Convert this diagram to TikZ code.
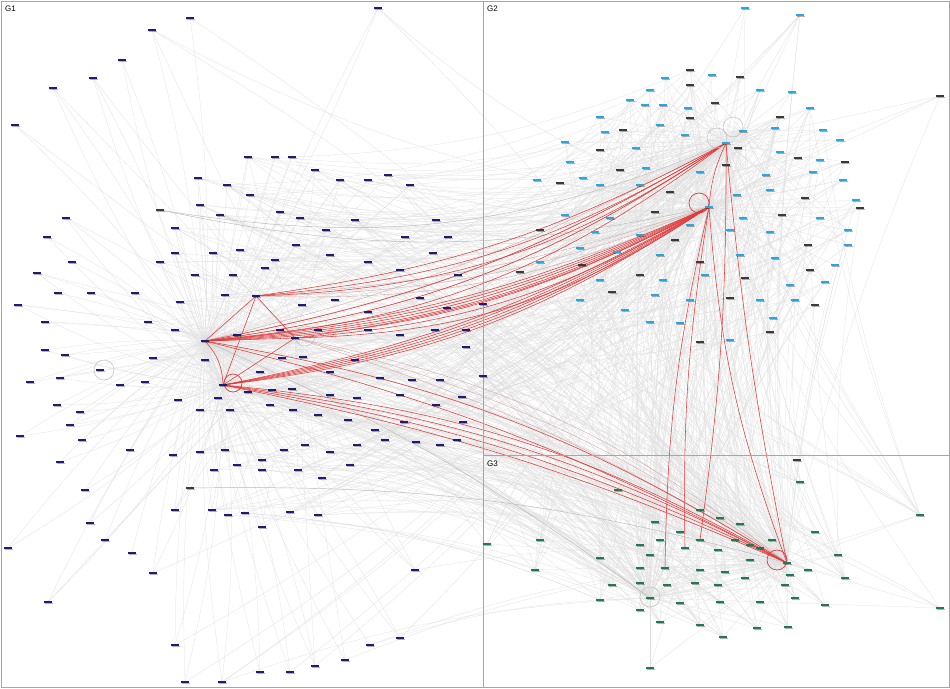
\documentclass[tikz,border=0pt]{standalone}
\usepackage{fontspec}
\setmainfont{Liberation Sans}
\usetikzlibrary{shadows}
\definecolor{navyc}{HTML}{1C1C78}
\definecolor{bluec}{HTML}{2AA5E3}
\definecolor{darkc}{HTML}{3A3A3A}
\definecolor{greenc}{HTML}{1E7A55}
\definecolor{redc}{HTML}{E23A3A}
\def\Alist{152/30,190/18,122/60,93/78,53/88,15/125,248/157,275/157,292/157,198/178,227/185,315/170,340/180,368/180,388/175,410/185,250/195,200/205,220/215,66/218,47/237,175/228,280/212,300/218,326/230,355/220,405/237,436/220,448/237,175/253,213/253,240/250,275/260,296/245,330/255,368/262,400/270,433/253,458/275,37/273,72/262,160/262,195/275,233/275,265/268,58/293,91/293,135/293,180/302,225/295,302/305,335/300,368/312,420/298,447/308,483/304,18/305,45/322,148/322,175/330,237/335,280/330,318/330,368/330,400/335,435/330,466/330,45/350,65/355,153/358,205/360,260/372,282/358,303/357,330/372,355/360,380/378,412/380,440/380,466/347,30/382,60/378,120/385,145/382,218/398,248/392,272/390,292/389,330/395,357/398,400/395,436/405,462/397,483/376,57/405,80/412,178/400,200/410,230/410,270/405,293/410,318/415,348/420,375/430,404/422,463/422,70/425,20/436,82/440,130/450,173/455,200/452,225/450,262/460,284/450,305/445,330/452,357/445,385/440,416/442,440/445,457/440,60/462,214/470,237/465,262/470,298/470,322/478,350/465,175/510,212/510,228/515,245/513,290/512,318/515,85/490,90/523,262/527,105/540,132/553,8/548,153/573,48/602,415/570,175/645,185/682,222/682,260/672,290/672,315/666,345/660,370/645,400/638,378/8}
\def\Blist{745/8,800/15,690/70,665/78,712/75,740/77,650/90,630/100,690/85,760/90,792/92,940/96,663/105,688/108,715/103,645/105,600/117,780/117,775/128,810/108,690/118,605/132,565/142,623/130,660/125,685/135,738/148,780/152,823/130,798/158,840/140,570/162,600/150,636/148,583/178,620/170,646/168,700/172,726/165,766/175,820/160,845/162,813/172,537/180,560/183,600/185,640/185,670/192,737/195,770/190,805/198,843/180,856/200,860/208,565/215,610/218,655/212,690/225,743/218,782/215,820/218,848/230,540/230,595/232,640/235,675/240,730/230,770/232,808/245,848/245,580/248,582/265,617/252,660/255,700/262,740/255,775/258,810/270,835/265,600/280,640/275,663/280,705/275,745/278,790/285,825/282,612/292,655/295,690/300,730/298,760/300,795/300,815/305,625/310,680/323,700/342,730/340,773/318,770/332,650/322,540/262,520/272,580/300}
\def\Clist{800/482,618/490,700/510,655/522,720/518,740/524,920/515,487/544,540/540,640/545,660/540,680/532,700/540,735/540,750/545,772/540,815/532,650/555,685/548,718/550,760/548,838/555,535/570,600/558,640/568,665/568,700/570,725/572,750/560,790/575,808/570,612/585,640/583,667/585,695/583,718/585,745/578,785/585,845/578,600/600,640/610,680/603,720/602,760/602,795/598,825/605,940/608,700/625,723/637,660/622,757/628,788/627,650/668}
\begin{document}
\begin{tikzpicture}[x=1pt,y=-1pt,
  vx/.style={rectangle,inner sep=0pt,minimum width=8pt,minimum height=1.7pt,
    drop shadow={shadow xshift=1.2pt,shadow yshift=-1.6pt,opacity=0.3,fill=black}},
  ga/.style={vx,fill=navyc},
  gb/.style={vx,fill=bluec},
  gbd/.style={vx,fill=darkc},
  gc/.style={vx,fill=greenc},
  edge/.style={draw=gray!26,line width=0.25pt},
  dedge/.style={draw=gray!55,line width=0.45pt},
  pedge/.style={draw=redc!45!gray!60,line width=0.35pt},
  redge/.style={draw=redc,line width=0.55pt},
  loopg/.style={draw=gray!50,line width=0.5pt},
  loopr/.style={draw=redc,line width=0.7pt},
  frame/.style={draw=gray!70,line width=0.6pt},
  glabel/.style={anchor=west,font=\fontsize{8}{9}\selectfont,inner sep=0pt}]
\useasboundingbox (0,0) rectangle (950,688);
\pgfmathsetseed{7}
% hub positions
\coordinate (H1) at (205,341);
\coordinate (H2) at (223,385);
\coordinate (H3) at (295,338);
\coordinate (H4) at (100,370);
\coordinate (H5) at (256,296);
\coordinate (H6) at (160,210);
\coordinate (H7) at (190,488);
\coordinate (K1) at (709,207);
\coordinate (K2) at (726,143);
\coordinate (K3) at (743,131);
\coordinate (L1) at (787,563);
\coordinate (L2) at (650,598);
\coordinate (L3) at (797,460);
\foreach \x/\y [count=\i] in \Alist {\coordinate (a\i) at (\x,\y); \xdef\NA{\i}}
\foreach \x/\y [count=\i] in \Blist {\coordinate (b\i) at (\x,\y); \xdef\NB{\i}}
\foreach \x/\y [count=\i] in \Clist {\coordinate (c\i) at (\x,\y); \xdef\NC{\i}}
% gray edges
\foreach \x/\y [count=\i] in \Alist {
    \draw[edge] (a\i) to[bend left=5] (H1);
    \pgfmathsetmacro\r{rnd}
    \ifdim\r pt<0.55pt \draw[edge] (a\i) to[bend right=6] (H2); \fi
    \pgfmathsetmacro\r{rnd}
    \ifdim\r pt<0.25pt \draw[edge] (a\i) -- (H3); \fi
    \ifdim\x pt>140pt
      \pgfmathsetmacro\r{rnd}
      \ifdim\r pt<0.4pt \draw[edge] (a\i) to[bend right=10] (K1); \fi
      \pgfmathsetmacro\r{rnd}
      \ifdim\r pt<0.3pt \draw[edge] (a\i) to[bend right=12] (K2); \fi
      \pgfmathsetmacro\r{rnd}
      \ifdim\r pt<0.4pt \draw[edge] (a\i) to[bend left=9] (L1); \fi
      \pgfmathsetmacro\r{rnd}
      \ifdim\r pt<0.3pt \draw[edge] (a\i) to[bend left=8] (L2); \fi
    \fi
}
\foreach \x/\y [count=\i] in \Blist {
    \draw[edge] (b\i) -- (K1);
    \pgfmathsetmacro\r{rnd}
    \ifdim\r pt<0.6pt \draw[edge] (b\i) -- (K2); \fi
    \pgfmathsetmacro\r{rnd}
    \ifdim\r pt<0.3pt \draw[edge] (b\i) -- (K3); \fi
    \pgfmathsetmacro\r{rnd}
    \ifdim\r pt<0.35pt \draw[edge] (b\i) to[bend right=5] (L1); \fi
    \pgfmathsetmacro\r{rnd}
    \ifdim\r pt<0.3pt \draw[edge] (b\i) to[bend right=5] (L2); \fi
    \pgfmathsetmacro\r{rnd}
    \ifdim\r pt<0.15pt \draw[edge] (b\i) to[bend left=10] (H1); \fi
}
\foreach \x/\y [count=\i] in \Clist {
    \draw[edge] (c\i) -- (L1);
    \pgfmathsetmacro\r{rnd}
    \ifdim\r pt<0.6pt \draw[edge] (c\i) -- (L2); \fi
    \pgfmathsetmacro\r{rnd}
    \ifdim\r pt<0.4pt \draw[edge] (c\i) to[bend left=5] (K1); \fi
    \pgfmathsetmacro\r{rnd}
    \ifdim\r pt<0.3pt \draw[edge] (c\i) to[bend left=5] (K2); \fi
    \pgfmathsetmacro\r{rnd}
    \ifdim\r pt<0.35pt \draw[edge] (c\i) to[bend right=9] (H1); \fi
    \pgfmathsetmacro\r{rnd}
    \ifdim\r pt<0.35pt \draw[edge] (c\i) to[bend right=9] (H2); \fi
}
% scattered cross-group edges (from the central part of G1)
\foreach \k in {1,...,200} {
  \pgfmathrandominteger{\p}{1}{\NA}\pgfmathrandominteger{\q}{1}{\NB}
  \path (a\p); \pgfgetlastxy{\px}{\py}
  \ifdim\px>150pt \ifdim\py<-150pt \ifdim\py>-520pt
    \draw[edge] (a\p) to[bend right=10] (b\q);
  \fi\fi\fi
}
\foreach \k in {1,...,160} {
  \pgfmathrandominteger{\p}{1}{\NA}\pgfmathrandominteger{\q}{1}{\NC}
  \path (a\p); \pgfgetlastxy{\px}{\py}
  \ifdim\px>150pt \ifdim\py<-150pt \ifdim\py>-540pt
    \draw[edge] (a\p) to[bend left=9] (c\q);
  \fi\fi\fi
}
\foreach \k in {1,...,110} {
  \pgfmathrandominteger{\p}{1}{\NB}\pgfmathrandominteger{\q}{1}{\NC}
  \draw[edge] (b\p) to[bend right=5] (c\q);
}
% pinkish gray bundles
\foreach \b in {7,10,13} {
  \draw[pedge] (H5) to[bend right=\b] (K1);
  \draw[pedge] (H3) to[bend left=\b] (L1);
  \draw[pedge] (H1) to[bend right=\b] (K2);
}
% hub-to-hub gray
\draw[dedge] (H6) to[bend right=12] (K1);
\draw[dedge] (H6) to[bend right=16] (K2);
\draw[dedge] (H7) to[bend left=8] (L1);
\draw[dedge] (H1) to[bend left=6] (L2);
% red bundles
\foreach \b in {9,10,11,12,13} {
  \draw[redge] (H1) to[bend right=\b] (K1);
  \draw[redge] (H2) to[bend right=\b] (K1);
}
\foreach \b in {10,13,16} {
  \draw[redge] (H5) to[bend right=\b] (K2);
  \draw[redge] (H3) to[bend right=\b] (K1);
  \draw[redge] (H1) to[bend right=\b] (K2);
}
\foreach \b in {6,8,10,12} {
  \draw[redge] (H2) to[bend left=\b] (L1);
}
\foreach \b in {7,11} {
  \draw[redge] (H1) to[bend left=\b] (L1);
}
\draw[redge] (K1) to[bend right=8] (L1);
\draw[redge] (K1) to[bend right=5] (c19);
\draw[redge] (K1) to[bend right=6] (c26);
\draw[redge] (K2) to[bend right=3] (L1);
\draw[redge] (K2) to[bend right=10] (K1);
\draw[redge] (K2) to[bend left=4] (c13);
\draw[redge] (H1) -- (H5);
\draw[redge] (H1) -- (H3);
\draw[redge] (H2) -- (H3);
\draw[redge] (H5) -- (H2);
\draw[redge] (H1) to[bend left=20] (H2);
\draw[redge] (H5) -- (H3);
% self loops
\draw[loopr] (H2) ++(10,-2) circle (9);
\draw[loopg] (H3) ++(10,-2) circle (10);
\draw[loopg] (H4) ++(4,0) circle (10);
\draw[loopr] (K1) ++(-10,-4) circle (10);
\draw[loopg] (K2) ++(-9,-5) circle (10);
\draw[loopg] (K3) ++(-10,-4) circle (10);
\draw[loopr] (L1) ++(-10,-3) circle (10);
\draw[loopg] (L2) ++(0,-1) circle (10);
% group frames
\draw[frame] (1,1) rectangle (949,687);
\draw[frame] (483,1) -- (483,687);
\draw[frame] (483,455) -- (949,455);
\node[glabel] (lg1) at (5,9) {G1};
\node[glabel] (lg2) at (487,9) {G2};
\node[glabel] (lg3) at (487,464) {G3};
% vertices
\foreach \h in {H1,H2,H3,H4,H5} {\node[ga] (v\h) at (\h) {};}
\foreach \h in {H6,H7,L3} {\node[gbd] (v\h) at (\h) {};}
\foreach \h in {K1,K2,K3} {\node[gb] (v\h) at (\h) {};}
\foreach \h in {L1,L2} {\node[gc] (v\h) at (\h) {};}
\foreach \x/\y [count=\i] in \Alist {\node[ga] (va\i) at (a\i) {};}
\foreach \x/\y [count=\i] in \Blist {
  \pgfmathtruncatemacro\m{mod(\i,3)}
  \ifnum\m=0 \node[gbd] (vb\i) at (b\i) {}; \else \node[gb] (vb\i) at (b\i) {}; \fi
}
\foreach \x/\y [count=\i] in \Clist {\node[gc] (vc\i) at (c\i) {};}
\end{tikzpicture}
\end{document}
